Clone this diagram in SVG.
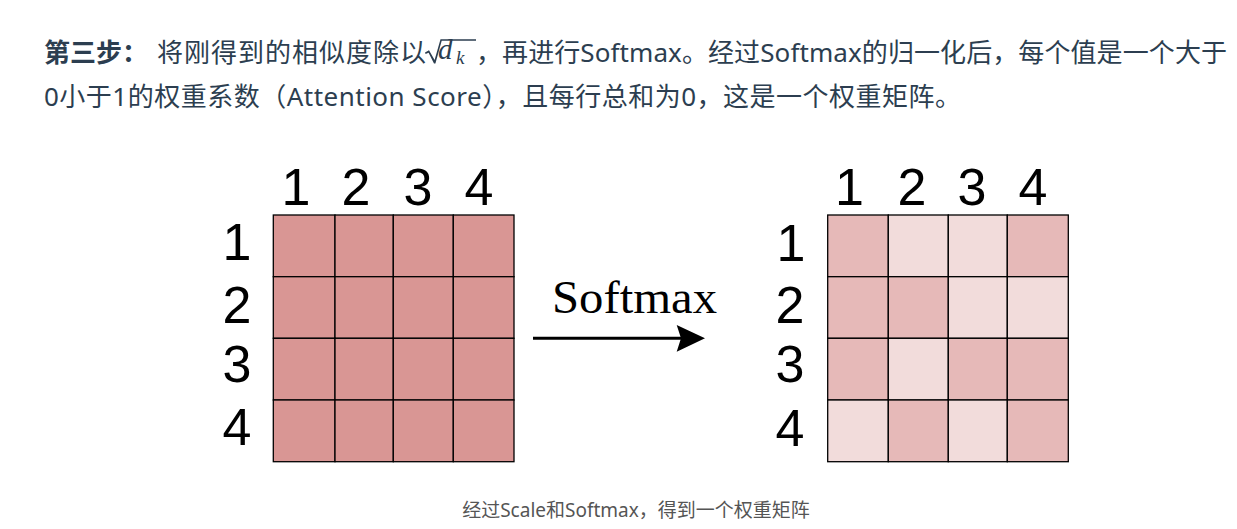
<svg xmlns="http://www.w3.org/2000/svg" width="1237" height="529" viewBox="0 0 1237 529">
<style>
.t{font-family:"Noto Sans","Noto Sans CJK SC",sans-serif;font-size:26px;fill:#2c3e50}
.b{font-weight:bold}
.cap{font-family:"Noto Sans","Noto Sans CJK SC",sans-serif;font-size:19px;fill:#555}
.n{font-family:"Liberation Sans",Arial,sans-serif;font-size:52px;fill:#000;text-anchor:middle}
.c0{fill:#d99694;stroke:#000;stroke-width:1.3}
.cd{fill:#e6b9b8;stroke:#000;stroke-width:1.3}
.cl{fill:#f2dcdb;stroke:#000;stroke-width:1.3}
.math{font-family:"Liberation Serif","Times New Roman",serif;font-style:italic;fill:#2c3e50}
</style>
<rect width="1237" height="529" fill="#fff"/>
<g id="header">
<text class="t b" x="44" y="62">第三步：</text>
<text class="t" x="157" y="62" textLength="269" lengthAdjust="spacing">将刚得到的相似度除以</text>
<path d="M425,52.5 L429,50.3 L434.6,60 L440.5,39.3 L476,39.3 L476,40.8 L441.7,40.8 L435.4,63.5 L434,63.5 L428.6,52.7 L425.6,54 Z" fill="#2c3e50"/>
<text class="math" x="438" y="59" font-size="29">d</text>
<text class="math" x="456" y="64" font-size="19">k</text>
<text class="t" x="476" y="62" textLength="751" lengthAdjust="spacing">，再进行Softmax。经过Softmax的归一化后，每个值是一个大于</text>
<text class="t" x="44" y="106" textLength="917" lengthAdjust="spacing">0小于1的权重系数（Attention Score），且每行总和为0，这是一个权重矩阵。</text>
</g>
<g id="matrix-scores">
<rect class="c0" x="273.3" y="215" width="61.7" height="61.7"/>
<rect class="c0" x="335" y="215" width="58.3" height="61.7"/>
<rect class="c0" x="393.3" y="215" width="60" height="61.7"/>
<rect class="c0" x="453.3" y="215" width="60.7" height="61.7"/>
<rect class="c0" x="273.3" y="276.7" width="61.7" height="61.6"/>
<rect class="c0" x="335" y="276.7" width="58.3" height="61.6"/>
<rect class="c0" x="393.3" y="276.7" width="60" height="61.6"/>
<rect class="c0" x="453.3" y="276.7" width="60.7" height="61.6"/>
<rect class="c0" x="273.3" y="338.3" width="61.7" height="61.7"/>
<rect class="c0" x="335" y="338.3" width="58.3" height="61.7"/>
<rect class="c0" x="393.3" y="338.3" width="60" height="61.7"/>
<rect class="c0" x="453.3" y="338.3" width="60.7" height="61.7"/>
<rect class="c0" x="273.3" y="400" width="61.7" height="61.7"/>
<rect class="c0" x="335" y="400" width="58.3" height="61.7"/>
<rect class="c0" x="393.3" y="400" width="60" height="61.7"/>
<rect class="c0" x="453.3" y="400" width="60.7" height="61.7"/>
<text class="n" x="296" y="205">1</text>
<text class="n" x="356" y="205">2</text>
<text class="n" x="418" y="205">3</text>
<text class="n" x="479" y="205">4</text>
<text class="n" x="237" y="260">1</text>
<text class="n" x="237" y="323">2</text>
<text class="n" x="237" y="382">3</text>
<text class="n" x="237" y="445">4</text>
</g>
<g id="matrix-weights">
<rect class="cd" x="827.7" y="215" width="60.6" height="61.7"/>
<rect class="cl" x="888.3" y="215" width="60" height="61.7"/>
<rect class="cl" x="948.3" y="215" width="59" height="61.7"/>
<rect class="cd" x="1007.3" y="215" width="61" height="61.7"/>
<rect class="cd" x="827.7" y="276.7" width="60.6" height="61.6"/>
<rect class="cd" x="888.3" y="276.7" width="60" height="61.6"/>
<rect class="cl" x="948.3" y="276.7" width="59" height="61.6"/>
<rect class="cl" x="1007.3" y="276.7" width="61" height="61.6"/>
<rect class="cd" x="827.7" y="338.3" width="60.6" height="61.7"/>
<rect class="cl" x="888.3" y="338.3" width="60" height="61.7"/>
<rect class="cd" x="948.3" y="338.3" width="59" height="61.7"/>
<rect class="cd" x="1007.3" y="338.3" width="61" height="61.7"/>
<rect class="cl" x="827.7" y="400" width="60.6" height="61.7"/>
<rect class="cd" x="888.3" y="400" width="60" height="61.7"/>
<rect class="cl" x="948.3" y="400" width="59" height="61.7"/>
<rect class="cd" x="1007.3" y="400" width="61" height="61.7"/>
<text class="n" x="849.5" y="205">1</text>
<text class="n" x="912" y="205">2</text>
<text class="n" x="972" y="205">3</text>
<text class="n" x="1033" y="205">4</text>
<text class="n" x="791" y="261">1</text>
<text class="n" x="790" y="323">2</text>
<text class="n" x="790" y="382">3</text>
<text class="n" x="790" y="446">4</text>
</g>
<g id="connectors">
<line x1="533" y1="338.3" x2="682" y2="338.3" stroke="#000" stroke-width="3"/>
<path d="M705,338.3 L676.7,325 L681,338.3 L676.7,351.7 Z" fill="#000"/>
<text x="552" y="313.3" font-family="'Liberation Serif','Times New Roman',serif" font-size="46" textLength="165" lengthAdjust="spacingAndGlyphs" fill="#000">Softmax</text>
</g>
<text class="cap" x="636" y="517" text-anchor="middle">经过Scale和Softmax，得到一个权重矩阵</text>
</svg>
